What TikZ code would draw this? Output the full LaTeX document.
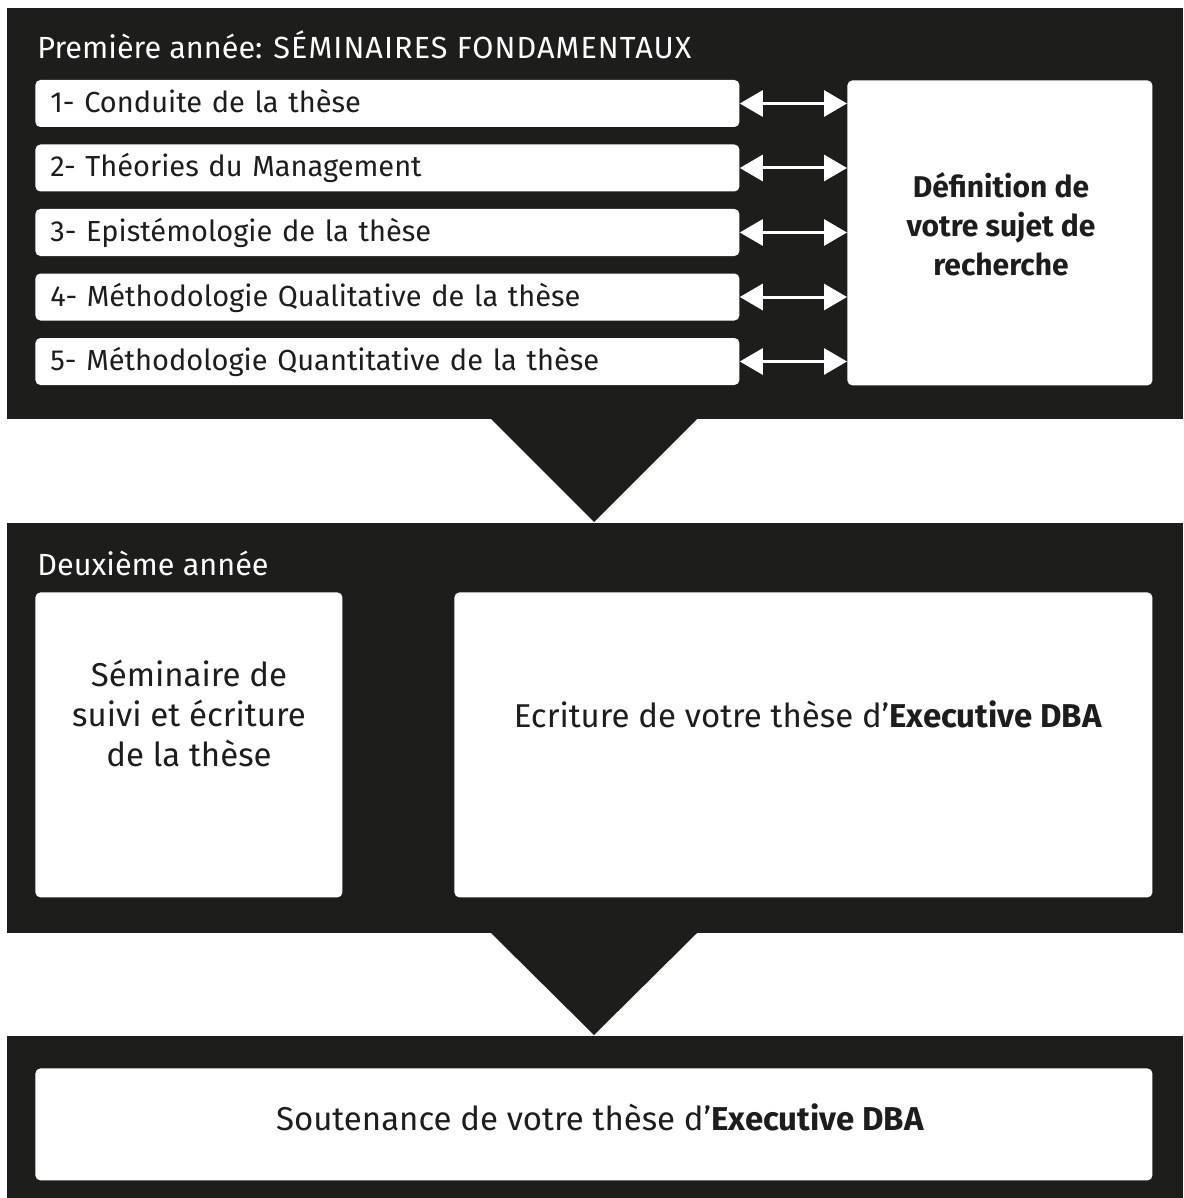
\documentclass[tikz,border=0pt]{standalone}
\usepackage{fontspec}
\setmainfont{Fira Sans}
\usetikzlibrary{arrows.meta,positioning}
\definecolor{fond}{HTML}{1D1D1B}
\tikzset{
  panneau/.style={fill=fond},
  case/.style={fill=white, rounded corners=2.5pt, inner sep=0pt},
  ligne/.style={case, anchor=west, minimum width=352pt, minimum height=23.5pt,
    text width=337pt, align=left, inner xsep=7.5pt, text height=11pt, text depth=2pt,
    text=fond, font=\fontsize{14.5pt}{20pt}\selectfont},
  titre/.style={anchor=base west, text=white, inner sep=0pt, font=\fontsize{15.3pt}{20pt}\selectfont},
  texte/.style={align=center, text=fond, inner sep=0pt, font=\fontsize{16.5pt}{20pt}\selectfont},
  fleche/.style={white, line width=1.5pt,
    {Triangle[length=11.5pt,width=13pt]}-{Triangle[length=11.5pt,width=13pt]}},
}
\begin{document}
\begin{tikzpicture}[x=0.5pt,y=-0.5pt]
  \useasboundingbox (0,0) rectangle (1183,1198);
  % les trois panneaux
  \fill[panneau] (7,8) rectangle (1183,419);
  \fill[panneau] (7,523) rectangle (1183,933);
  \fill[panneau] (7,1036) rectangle (1183,1198);
  \fill[panneau] (490,418) -- (594,522) -- (698,418) -- cycle;
  \fill[panneau] (490,932) -- (594,1035) -- (698,932) -- cycle;

  % premiere annee
  \node[titre] (an1) at (37,58.5) {Première année: {\addfontfeatures{LetterSpace=3.5}SÉMINAIRES FONDAMENTAUX}};
  \node[ligne] (r1) at (35,103.5) {1- Conduite de la thèse};
  \node[ligne] (r2) at (35,168) {2- Théories du Management};
  \node[ligne] (r3) at (35,232.5) {3- Epistémologie de la thèse};
  \node[ligne] (r4) at (35,297) {4- Méthodologie Qualitative de la thèse};
  \node[ligne] (r5) at (35,361.5) {5- Méthodologie Quantitative de la thèse};
  \node[case, anchor=north west, minimum width=152.5pt, minimum height=152.5pt] (sujet) at (847,80) {};
  \node[texte, font=\fontsize{15pt}{19.5pt}\selectfont\bfseries] (sujettxt) at (1001,224) {Définition de\\votre sujet de\\recherche};
  \draw[fleche] (r1.east) -- (r1.east -| sujet.west);
  \draw[fleche] (r2.east) -- (r2.east -| sujet.west);
  \draw[fleche] (r3.east) -- (r3.east -| sujet.west);
  \draw[fleche] (r4.east) -- (r4.east -| sujet.west);
  \draw[fleche] (r5.east) -- (r5.east -| sujet.west);

  % deuxieme annee
  \node[titre] (an2) at (37,575) {Deuxième année};
  \node[case, anchor=north west, minimum width=153.5pt, minimum height=152.5pt] (suivi) at (35,592) {};
  \node[case, anchor=north west, minimum width=349pt, minimum height=152.5pt] (ecrit) at (454,592) {};
  \node[texte] (suivitxt) at (189,713) {Séminaire de\\suivi et écriture\\de la thèse};
  \node[texte] (ecrittxt) at (808,714) {Ecriture de votre thèse d’\textbf{Executive DBA}};

  % soutenance
  \node[case, anchor=north west, minimum width=558.5pt, minimum height=56pt] (sout) at (35,1068) {};
  \node[texte] (souttxt) at (600,1117) {Soutenance de votre thèse d’\textbf{Executive DBA}};
\end{tikzpicture}
\end{document}
